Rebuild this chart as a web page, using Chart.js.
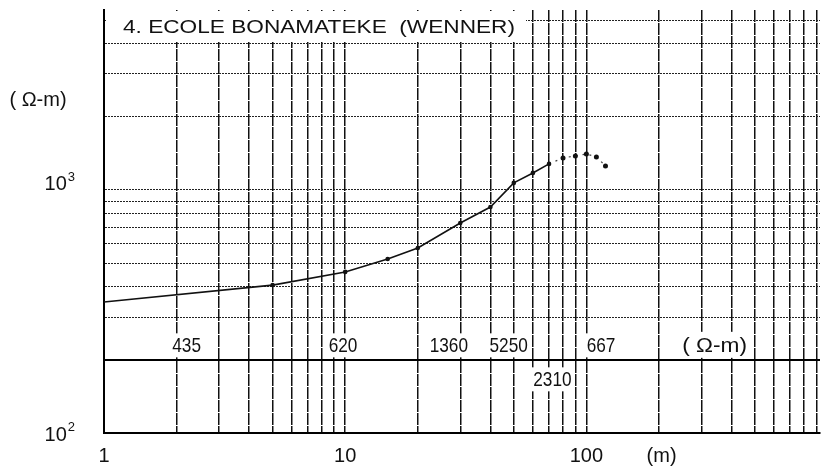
<!DOCTYPE html>
<html><head><meta charset="utf-8">
<script src="https://cdn.jsdelivr.net/npm/chart.js@4.4.1/dist/chart.umd.min.js"></script>
<style>html,body{margin:0;padding:0;background:#fff;} #wrap{width:824px;height:475px;position:relative;}</style>
</head><body><div id="wrap"><canvas id="c" width="824" height="475"></canvas></div>
<script>
// ---------- data ----------
const chartTitle = '4. ECOLE BONAMATEKE  (WENNER)';
const spacingMeasured = [1, 5, 10, 15, 20, 30, 40, 50, 60, 70];
const rhoMeasured     = [346, 406, 460, 520, 577, 731, 851, 1069, 1175, 1280];
const spacingTail = [70, 80, 90, 100, 110, 120];
const rhoTail     = [1280, 1355, 1380, 1406, 1367, 1256];
const layerRho     = ['435', '620', '1360', '5250', '2310', '667'];
const layerLabelAt = [2.2, 9.8, 26.9, 47.6, 72.3, 115];     // spacing (m) where each value is written
const layerBelow   = [false, false, false, false, true, false];
const layerUnit = '( Ω-m)';
const layerUnitAt = 340;
const layerBoundaryRho = 200;
const xTickValues = [1, 10, 100];
const xTickLabels = ['1', '10', '100'];
const xUnit = '(m)';
const xUnitAt = 205;
const yTickValues = [100, 1000];
const yTickBase = ['10', '10'];
const yTickExp  = ['2', '3'];
const yUnit = '( Ω-m)';
const xGridValues = [1,2,3,4,5,6,7,8,9,10,20,30,40,50,60,70,80,90,100,200,300,400,500,600,700,800,900];
const yGridValues = [200,300,400,500,600,700,800,900,1000,2000,3000,4000,5000];

// ---------- overlay: text labels ----------
const FONT = '"Liberation Sans", Arial, "DejaVu Sans", sans-serif';
function whiteBox(ctx, x, y, w, h) { ctx.fillStyle = '#fff'; ctx.fillRect(x, y, w, h); }
function scaledText(ctx, txt, cx, cy, size, sx, box) {
  ctx.save();
  ctx.font = size + 'px ' + FONT;
  const w = ctx.measureText(txt).width * sx;
  if (box) whiteBox(ctx, cx - w / 2 - 3, cy - size * 0.5 - 2, w + 6, size + 3);
  ctx.translate(cx, cy);
  ctx.scale(sx, 1);
  ctx.fillStyle = '#111';
  ctx.textAlign = 'center';
  ctx.textBaseline = 'middle';
  ctx.fillText(txt, 0, 0);
  ctx.restore();
}
const overlay = {
  id: 'overlay',
  afterDraw(chart) {
    const { ctx, scales: { x, y }, chartArea } = chart;
    ctx.save();
    // title box
    whiteBox(ctx, chartArea.left + 2, chartArea.top + 1, 420, 31);
    ctx.font = '19px ' + FONT;
    const tw = ctx.measureText(chartTitle).width;
    const tsx = 392 / tw;
    ctx.save();
    ctx.translate(chartArea.left + 19, chartArea.top + 23);
    ctx.scale(tsx, 1);
    ctx.fillStyle = '#111';
    ctx.textBaseline = 'alphabetic';
    ctx.textAlign = 'left';
    ctx.fillText(chartTitle, 0, 0);
    ctx.restore();
    // layer values
    const yb = y.getPixelForValue(layerBoundaryRho);
    layerRho.forEach((t, i) => {
      const cx = x.getPixelForValue(layerLabelAt[i]);
      const cy = layerBelow[i] ? yb + 20 : yb - 14;
      scaledText(ctx, t, cx, cy, 21, 0.82, true);
    });
    // layer unit
    const ux = x.getPixelForValue(layerUnitAt);
    whiteBox(ctx, ux - 38, yb - 28, 76, 26);
    scaledText(ctx, layerUnit, ux, yb - 14, 21, 1.08, false);
    // x tick labels
    ctx.fillStyle = '#111';
    ctx.font = '20px ' + FONT;
    ctx.textAlign = 'center'; ctx.textBaseline = 'middle';
    xTickValues.forEach((v, i) => {
      ctx.fillText(xTickLabels[i], x.getPixelForValue(v), chartArea.bottom + 23);
    });
    ctx.fillText(xUnit, x.getPixelForValue(xUnitAt), chartArea.bottom + 23);
    // y tick labels (10 with superscript)
    const nudge = [2, -5];
    yTickValues.forEach((v, i) => {
      const py = y.getPixelForValue(v) + nudge[i];
      ctx.font = '13px ' + FONT;
      const ew = ctx.measureText(yTickExp[i]).width;
      ctx.textAlign = 'right'; ctx.textBaseline = 'middle';
      ctx.fillText(yTickExp[i], 75, py - 8);
      ctx.font = '20px ' + FONT;
      ctx.fillText(yTickBase[i], 75 - ew - 1, py);
    });
    scaledText(ctx, yUnit, 38, 100, 20, 1.0, false);
    ctx.restore();
  }
};

new Chart(document.getElementById('c'), {
  type: 'line',
  data: {
    datasets: [
      {
        data: spacingMeasured.map((v, i) => ({ x: v, y: rhoMeasured[i] })),
        borderColor: '#111', borderWidth: 1.6, tension: 0,
        pointRadius: c => (c.dataIndex === 0 ? 0 : 2.3),
        pointBackgroundColor: '#111', pointBorderWidth: 0
      },
      {
        data: spacingTail.map((v, i) => ({ x: v, y: rhoTail[i] })),
        borderColor: '#444', borderWidth: 1.2, borderDash: [2, 5], tension: 0,
        pointRadius: c => (c.dataIndex === 0 ? 0 : 2.5),
        pointBackgroundColor: '#111', pointBorderWidth: 0
      }
    ]
  },
  options: {
    responsive: false, animation: false, devicePixelRatio: 1,
    layout: { padding: { left: 104, top: 10, right: 0, bottom: 42 } },
    plugins: { legend: { display: false }, tooltip: { enabled: false }, title: { display: false } },
    scales: {
      x: {
        type: 'logarithmic', min: 1, max: 930,
        afterBuildTicks: s => { s.ticks = xGridValues.map(v => ({ value: v })); },
        afterFit: s => { s.height = 0; },
        ticks: { display: false },
        grid: { color: '#111', lineWidth: 1.5, drawTicks: false },
        border: { display: true, color: '#000', width: 2, dash: [12, 1] }
      },
      y: {
        type: 'logarithmic', min: 100, max: 5500,
        afterBuildTicks: s => { s.ticks = yGridValues.map(v => ({ value: v })); },
        afterFit: s => { s.width = 0; },
        ticks: { display: false },
        grid: {
          drawTicks: false,
          color: c => (c.tick && c.tick.value === layerBoundaryRho ? '#000' : '#222'),
          lineWidth: c => (c.tick && c.tick.value === layerBoundaryRho ? 2 : 1)
        },
        border: {
          display: true, color: '#000', width: 2,
          dash: c => (c.tick && c.tick.value === layerBoundaryRho ? [] : [2, 1])
        }
      }
    }
  },
  plugins: [overlay]
});
</script>
</body></html>
